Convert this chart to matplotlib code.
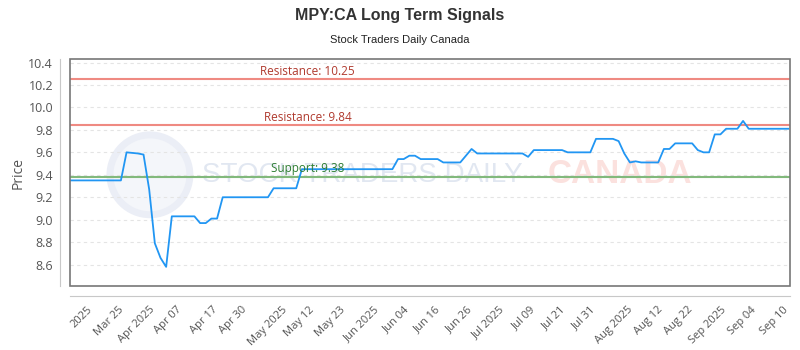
import numpy as np
import matplotlib
matplotlib.use("Agg")
import matplotlib.pyplot as plt
from matplotlib.patches import Rectangle, Ellipse

# daily closes
price = [9.35] * 10 + [9.60, 9.595, 9.59, 9.58, 9.27, 8.79, 8.66, 8.58] \
    + [9.03] * 5 + [8.97, 8.97, 9.01, 9.01] \
    + [9.20] * 9 + [9.28] * 5 + [9.45] * 17 \
    + [9.54, 9.54, 9.57, 9.57] + [9.54] * 4 + [9.51] * 4 + [9.57, 9.63] \
    + [9.59] * 9 + [9.56] + [9.62] * 6 + [9.60] * 5 \
    + [9.72] * 4 + [9.70, 9.59, 9.51, 9.52] + [9.51] * 4 \
    + [9.63, 9.63] + [9.68] * 4 + [9.62, 9.60, 9.60, 9.76, 9.76] \
    + [9.81] * 3 + [9.88] + [9.81] * 8

resistance = [10.25, 9.84]
support = [9.38]

tick_pos = [3.0, 8.5, 14.0, 18.8, 25.1, 30.3, 37.4, 42.3, 47.7, 53.7, 59.0,
            64.5, 70.2, 75.9, 81.4, 86.7, 92.0, 98.6, 103.9, 109.2, 115.1,
            120.4, 126.1]
tick_labels = ["2025", "Mar 25", "Apr 2025", "Apr 07", "Apr 17", "Apr 30",
               "May 2025", "May 12", "May 23", "Jun 2025", "Jun 04", "Jun 16",
               "Jun 26", "Jul 2025", "Jul 09", "Jul 21", "Jul 31", "Aug 2025",
               "Aug 12", "Aug 22", "Sep 2025", "Sep 04", "Sep 10"]

fig = plt.figure(figsize=(8, 3.5), dpi=100)
ax = fig.add_axes([0.0875, 0.183, 0.9, 0.648])

# spines first: set_position resets the ticks
for side in ['top', 'right']:
    ax.spines[side].set_visible(False)
for side in ['left', 'bottom']:
    ax.spines[side].set_position(('outward', 7.2))
    ax.spines[side].set_color('#c8c8c8')
ax.add_patch(Rectangle((0, 0), 1, 1, transform=ax.transAxes, fill=False,
                       edgecolor='#777777', lw=1.2, clip_on=False, zorder=6))

x = np.arange(len(price))
ax.plot(x, price, color='#2196f3', lw=1.3, zorder=4)

for r in resistance:
    ax.axhline(r, color='#ef8a82', lw=1.5, zorder=3)
    ax.text(42, r + 0.015, f"Resistance: {r:.2f}", color='#b03a2e',
            fontsize=8.5, ha='center', va='bottom', family='Open Sans', zorder=5)
for s in support:
    ax.axhline(s, color='#82b97c', lw=1.5, zorder=3)
    ax.text(42, s + 0.015, f"Support: {s:.2f}", color='#2e7d32',
            fontsize=8.5, ha='center', va='bottom', family='Open Sans', zorder=5)

ax.set_xlim(0, len(price) - 1 + 0.3)
ax.set_ylim(8.41, 10.43)
ax.tick_params(axis='y', length=0, pad=5, labelsize=9, labelcolor='#555555')
ax.tick_params(axis='x', length=0, pad=6)
yt = np.arange(8.6, 10.41, 0.2)
ax.set_yticks(yt)
ax.set_yticklabels([f"{v:.1f}" for v in yt], family='Open Sans')
ax.set_xticks(tick_pos)
ax.set_xticklabels(tick_labels, rotation=45, ha='right', rotation_mode='anchor',
                   family='Open Sans', fontsize=8, color='#555555')
ax.grid(axis='y', color='#e4e4e4', ls=(0, (3, 3)), lw=0.8)
ax.set_ylabel("Price", fontsize=10, color='#555555', labelpad=2,
              family='Open Sans')

# watermark
wm = ax.transAxes
ax.add_patch(Ellipse((0.111, 0.49), 0.111, 0.352, transform=wm,
                     facecolor='#f4f6fa', edgecolor='#ebeef6', lw=5, zorder=1))
ax.text(0.406, 0.49, "STOCK TRADERS DAILY", transform=wm, color='#e1e7f1',
        fontsize=20, ha='center', va='center', family='Liberation Sans', zorder=1)
ax.text(0.764, 0.49, "CANADA", transform=wm, color='#fbe1de', fontweight='bold',
        fontsize=24, ha='center', va='center', family='Liberation Sans', zorder=1)

fig.text(0.5, 0.955, "MPY:CA Long Term Signals", ha='center', va='center',
         fontsize=11.5, fontweight='bold', color='#333333', family='Liberation Sans')
fig.text(0.5, 0.887, "Stock Traders Daily Canada", ha='center', va='center',
         fontsize=8, color='#222222', family='Liberation Sans')

fig.savefig("out.png", dpi=100)
